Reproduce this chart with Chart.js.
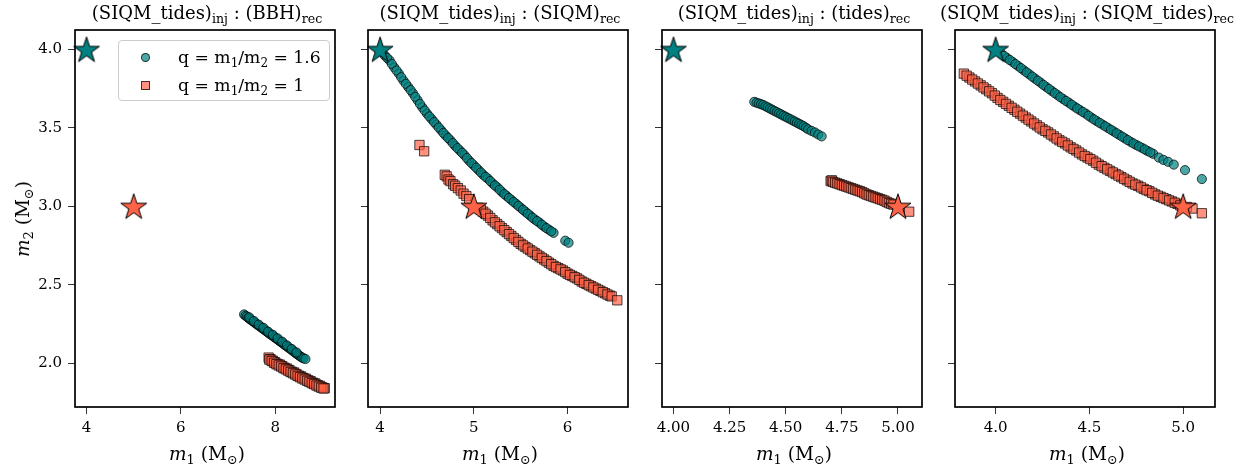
<!DOCTYPE html>
<html>
<head>
<meta charset="utf-8">
<script src="https://cdn.jsdelivr.net/npm/chart.js@4.4.0/dist/chart.umd.min.js"></script>
<style>
  body { margin:0; background:#fff; width:1249px; height:472px; overflow:hidden; position:relative; font-family:'DejaVu Serif', serif; color:#000; }
  canvas.cv { position:absolute; top:0; }
  .ttl { position:absolute; top:2px; font-size:18px; line-height:22px; white-space:nowrap; transform:translateX(-50%); }
  .xl { position:absolute; top:442px; font-size:18.5px; line-height:24px; white-space:nowrap; transform:translateX(-50%); }
  .yl { position:absolute; left:23px; top:219px; font-size:18.5px; line-height:24px; white-space:nowrap; transform:translate(-50%,-50%) rotate(-90deg); }
  sub { font-size:70%; vertical-align:-0.3em; line-height:0; }
  #legend { position:absolute; left:118px; top:40px; width:212px; height:61px; box-sizing:border-box; border:1px solid #cccccc; border-radius:4px; background:rgba(255,255,255,0.8); z-index:5; }
  .lrow { position:absolute; left:59px; font-size:17.2px; line-height:20px; white-space:nowrap; }
  .mk { position:absolute; box-sizing:border-box; border:0.8px solid rgba(0,0,0,0.7); }
</style>
</head>
<body>
<script>
// ---------------- data ----------------
const panelRec = ['BBH', 'SIQM', 'tides', 'SIQM_tides'];
const seriesLabels = ['q = m1/m2 = 1.6', 'q = m1/m2 = 1'];

const xTicks = [[4, 6, 8], [4, 5, 6], [4.00, 4.25, 4.50, 4.75, 5.00], [4.0, 4.5, 5.0]];
const xTickLabels = [['4', '6', '8'], ['4', '5', '6'], ['4.00', '4.25', '4.50', '4.75', '5.00'], ['4.0', '4.5', '5.0']];
const xLimits = [[3.756, 9.267], [3.871, 6.644], [3.949, 5.107], [3.783, 5.170]];
const yTicks = [2.0, 2.5, 3.0, 3.5, 4.0];
const yTickLabels = ['2.0', '2.5', '3.0', '3.5', '4.0'];
const yLimits = [1.720, 4.123];

// injected values (stars)
const injQ16 = [4.0, 4.0];
const injQ1 = [5.0, 3.0];

// panel 1: (BBH)rec
const bbh_q16_m1 = [7.34,7.37,7.40,7.43,7.46,7.49,7.52,7.55,7.58,7.61,7.64,7.67,7.70,7.73,7.76,7.79,7.82,7.85,7.88,7.91,7.94,7.97,8.00,8.03,8.06,8.09,8.12,8.15,8.18,8.21,8.24,8.27,8.30,8.33,8.36,8.39,8.42,8.45,8.48,8.51,8.54,8.57,8.60,8.64,
                    7.45,7.55,7.65,7.75,7.85,7.95,8.05,8.15,8.25,8.35,8.45];
const bbh_q16_m2 = [2.31,2.302,2.296,2.288,2.281,2.274,2.268,2.261,2.254,2.247,2.241,2.234,2.228,2.221,2.214,2.208,2.201,2.194,2.187,2.181,2.175,2.168,2.161,2.155,2.148,2.141,2.135,2.128,2.121,2.114,2.108,2.101,2.094,2.088,2.081,2.074,2.067,2.06,2.054,2.047,2.041,2.035,2.03,2.026,
                    2.292,2.268,2.245,2.225,2.2,2.18,2.158,2.136,2.112,2.09,2.068];
const bbh_q1_m1 = [7.86,7.90,7.95,8.00,8.05,8.10,8.15,8.20,8.25,8.30,8.35,8.40,8.45,8.50,8.55,8.60,8.65,8.70,8.75,8.80,8.85,8.90,8.95,9.00,9.05,
                   7.875,7.925,7.975,8.025,8.075,8.125,8.175,8.225,8.275,8.325,8.375,8.425,8.475,8.525,8.575,8.625,8.675,8.725,8.775,8.825,8.875,8.925,8.975,9.025];
const bbh_q1_m2 = [2.035,2.025,2.015,2.005,1.995,1.99,1.98,1.97,1.965,1.955,1.945,1.94,1.93,1.92,1.915,1.905,1.90,1.89,1.885,1.875,1.87,1.86,1.855,1.845,1.84,
                   2.022,2.013,2.002,1.993,1.985,1.978,1.968,1.96,1.952,1.943,1.935,1.927,1.918,1.91,1.902,1.895,1.887,1.88,1.872,1.865,1.857,1.85,1.843,1.838];

// panel 2: (SIQM)rec
const siqm_q16_m1 = [4.05,4.10,4.15,4.20,4.25,4.30,4.35,4.40,4.45,4.50,4.55,4.60,4.65,4.70,4.75,4.80,4.85,4.90,4.95,5.00,5.05,5.10,5.15,5.20,5.25,5.30,5.35,5.40,5.45,5.50,5.55,5.60,5.65,5.70,5.75,5.80,5.85,
                     4.025,4.075,4.125,4.175,4.225,4.275,4.325,4.375,4.425,4.475,4.525,4.575,4.625,4.675,4.725,4.775,4.825,4.875,4.925,4.975,5.025,5.075,5.125,5.175,5.225,5.275,5.325,5.375,5.425,5.475,5.525,5.575,5.625,5.675,5.725,5.775,5.825,
                     5.975,6.01];
const siqm_q16_m2 = [3.96,3.93,3.885,3.845,3.80,3.76,3.72,3.675,3.63,3.59,3.555,3.52,3.485,3.45,3.42,3.385,3.355,3.325,3.29,3.26,3.23,3.20,3.175,3.145,3.12,3.09,3.065,3.04,3.015,2.99,2.965,2.94,2.915,2.895,2.87,2.85,2.83,
                     3.98,3.945,3.907,3.865,3.822,3.78,3.74,3.697,3.652,3.61,3.572,3.537,3.502,3.467,3.435,3.402,3.37,3.34,3.307,3.275,3.245,3.215,3.187,3.16,3.132,3.105,3.077,3.052,3.027,3.002,2.977,2.952,2.927,2.905,2.882,2.86,2.84,
                     2.78,2.767];
const siqm_q1_m1 = [4.42,4.47,4.69,4.71,4.73,4.75,4.78,4.80,4.83,4.86,4.89,4.92,4.95,
                    5.05,5.10,5.15,5.20,5.25,5.30,5.35,5.40,5.45,5.50,5.55,5.60,5.65,5.70,5.75,5.80,5.85,5.90,5.95,6.00,6.05,6.10,6.15,6.20,6.25,6.30,6.35,6.40,6.45,
                    5.075,5.125,5.175,5.225,5.275,5.325,5.375,5.425,5.475,5.525,5.575,5.625,5.675,5.725,5.775,5.825,5.875,5.925,5.975,6.025,6.075,6.125,6.175,6.225,6.275,6.325,6.375,6.425,6.47,
                    6.53];
const siqm_q1_m2 = [3.39,3.35,3.20,3.19,3.17,3.16,3.14,3.13,3.115,3.10,3.08,3.065,3.045,
                    2.99,2.965,2.94,2.91,2.885,2.86,2.835,2.81,2.785,2.76,2.74,2.72,2.70,2.68,2.66,2.64,2.62,2.605,2.59,2.57,2.555,2.54,2.52,2.505,2.49,2.475,2.46,2.445,2.43,
                    2.977,2.952,2.925,2.897,2.872,2.847,2.822,2.797,2.772,2.75,2.73,2.71,2.69,2.67,2.65,2.63,2.612,2.597,2.58,2.562,2.547,2.53,2.512,2.497,2.482,2.467,2.452,2.437,2.425,
                    2.40];

// panel 3: (tides)rec
const tides_q16_m1 = [4.36,4.37,4.38,4.39,4.40,4.41,4.42,4.43,4.44,4.45,4.46,4.47,4.48,4.49,4.50,4.51,4.52,4.53,4.54,4.55,4.56,4.57,4.58,4.59,4.60,4.615,4.63,4.645,4.66];
const tides_q16_m2 = [3.665,3.66,3.655,3.65,3.645,3.637,3.63,3.622,3.615,3.607,3.60,3.592,3.585,3.577,3.57,3.562,3.555,3.547,3.54,3.532,3.525,3.517,3.51,3.50,3.49,3.48,3.47,3.457,3.445];
const tides_q1_m1 = [4.70,4.705,4.71,4.72,4.73,4.74,4.75,4.76,4.77,4.78,4.79,4.80,4.81,4.82,4.83,4.84,4.85,4.86,4.87,4.88,4.89,4.90,4.91,4.92,4.93,4.94,4.95,4.96,4.97,4.98,5.05];
const tides_q1_m2 = [3.16,3.165,3.155,3.15,3.145,3.14,3.135,3.13,3.125,3.12,3.115,3.11,3.105,3.10,3.095,3.09,3.082,3.075,3.07,3.065,3.06,3.055,3.05,3.045,3.04,3.035,3.027,3.02,3.015,3.01,2.965];

// panel 4: (SIQM_tides)rec
const st_q16_m1 = [4.03,4.06,4.09,4.12,4.15,4.18,4.21,4.24,4.27,4.30,4.33,4.36,4.39,4.42,4.45,4.48,4.51,4.54,4.57,4.60,4.63,4.66,4.69,4.72,4.75,4.78,4.81,4.84,
                   4.045,4.075,4.105,4.135,4.165,4.195,4.225,4.255,4.285,4.315,4.345,4.375,4.405,4.435,4.465,4.495,4.525,4.555,4.585,4.615,4.645,4.675,4.705,4.735,4.765,4.795,4.825,
                   4.87,4.895,4.92,4.95,5.01,5.10];
const st_q16_m2 = [3.972,3.945,3.92,3.893,3.866,3.84,3.813,3.787,3.76,3.734,3.708,3.683,3.66,3.635,3.612,3.59,3.565,3.542,3.52,3.498,3.476,3.454,3.432,3.41,3.39,3.372,3.352,3.334,
                   3.958,3.932,3.906,3.88,3.853,3.826,3.80,3.773,3.747,3.721,3.695,3.671,3.647,3.623,3.601,3.577,3.553,3.531,3.509,3.487,3.465,3.443,3.421,3.40,3.381,3.362,3.343,
                   3.31,3.295,3.283,3.265,3.23,3.173];
const st_q1_m1 = [3.83,3.86,3.89,3.92,3.95,3.98,4.01,4.04,4.07,4.10,4.13,4.16,4.19,4.22,4.25,4.28,4.31,4.34,4.37,4.40,4.43,4.46,4.49,4.52,4.55,4.58,4.61,4.64,4.67,4.70,4.73,4.76,4.79,4.82,4.85,4.88,4.91,4.94,4.97,
                  3.845,3.875,3.905,3.935,3.965,3.995,4.025,4.055,4.085,4.115,4.145,4.175,4.205,4.235,4.265,4.295,4.325,4.355,4.385,4.415,4.445,4.475,4.505,4.535,4.565,4.595,4.625,4.655,4.685,4.715,4.745,4.775,4.805,4.835,4.865,4.895,4.925,4.955,4.985,
                  5.02,5.05,5.10];
const st_q1_m2 = [3.845,3.82,3.795,3.77,3.745,3.72,3.69,3.665,3.64,3.615,3.59,3.565,3.54,3.515,3.49,3.47,3.445,3.42,3.40,3.375,3.355,3.33,3.31,3.29,3.265,3.245,3.225,3.205,3.185,3.165,3.145,3.13,3.11,3.095,3.075,3.06,3.045,3.03,3.015,
                  3.832,3.807,3.782,3.757,3.732,3.705,3.677,3.652,3.627,3.602,3.577,3.552,3.527,3.502,3.48,3.457,3.432,3.41,3.387,3.365,3.342,3.32,3.30,3.277,3.255,3.235,3.215,3.195,3.175,3.155,3.137,3.12,3.102,3.085,3.067,3.052,3.037,3.022,3.005,
                  2.995,2.985,2.955];

const q16Series = [[bbh_q16_m1, bbh_q16_m2], [siqm_q16_m1, siqm_q16_m2], [tides_q16_m1, tides_q16_m2], [st_q16_m1, st_q16_m2]];
const q1Series = [[bbh_q1_m1, bbh_q1_m2], [siqm_q1_m1, siqm_q1_m2], [tides_q1_m1, tides_q1_m2], [st_q1_m1, st_q1_m2]];

// ---------------- style / layout ----------------
const TEAL = 'rgba(0,128,128,0.7)';
const SALMON = 'rgba(255,99,71,0.7)';
const EDGE = 'rgba(0,0,0,0.7)';
const plotLefts = [75, 368, 662, 955];
const plotW = 264;
const AXW = 70, PADR = 10, XAXH = 65, TOP = 30;

function makeStar(fill) {
  const R = 13.6, r = R * 0.382, S = 32;
  const c = document.createElement('canvas');
  c.width = S; c.height = S;
  const g = c.getContext('2d');
  g.beginPath();
  for (let i = 0; i < 10; i++) {
    const rad = (i % 2 === 0) ? R : r;
    const a = -Math.PI / 2 + i * Math.PI / 5;
    const px = S / 2 + rad * Math.cos(a), py = S / 2 + 1.3 + rad * Math.sin(a);
    if (i === 0) g.moveTo(px, py); else g.lineTo(px, py);
  }
  g.closePath();
  g.fillStyle = fill; g.fill();
  g.lineWidth = 1; g.strokeStyle = '#000'; g.lineJoin = 'miter'; g.stroke();
  return c;
}
const starTeal = makeStar('#008080');
const starSalmon = makeStar('#FF6347');

const framePlugin = {
  id: 'frame',
  afterDatasetsDraw(chart) {
    const a = chart.chartArea, ctx = chart.ctx;
    ctx.save();
    ctx.strokeStyle = '#000'; ctx.lineWidth = 1.7;
    ctx.strokeRect(a.left, a.top, a.right - a.left, a.bottom - a.top);
    ctx.restore();
  }
};

const toPts = (xs, ys) => xs.map((x, i) => ({ x: x, y: ys[i] }));
const tickFont = { family: "'DejaVu Serif', serif", size: 15 };

for (let p = 0; p < 4; p++) {
  const cv = document.createElement('canvas');
  cv.className = 'cv';
  cv.width = AXW + plotW + PADR; cv.height = 472;
  cv.style.left = (plotLefts[p] - AXW) + 'px';
  cv.style.width = cv.width + 'px'; cv.style.height = '472px';
  document.body.appendChild(cv);

  new Chart(cv, {
    type: 'scatter',
    data: {
      datasets: [
        { data: [{ x: injQ16[0], y: injQ16[1] }], pointStyle: starTeal, pointRadius: 13, clip: false },
        { data: [{ x: injQ1[0], y: injQ1[1] }], pointStyle: starSalmon, pointRadius: 13, clip: false },
        { label: seriesLabels[1], data: toPts(q1Series[p][0], q1Series[p][1]), pointStyle: 'rect', pointRadius: 6.6,
          backgroundColor: SALMON, borderColor: EDGE, borderWidth: 1, clip: false },
        { label: seriesLabels[0], data: toPts(q16Series[p][0], q16Series[p][1]), pointStyle: 'circle', pointRadius: 4.6,
          backgroundColor: TEAL, borderColor: EDGE, borderWidth: 1, clip: false }
      ]
    },
    options: {
      responsive: false, animation: false, devicePixelRatio: 1,
      layout: { padding: { top: TOP, right: PADR, left: 0, bottom: 0 } },
      plugins: { legend: { display: false }, tooltip: { enabled: false }, title: { display: false } },
      elements: { point: { hoverRadius: 0 } },
      scales: {
        x: {
          type: 'linear', min: xLimits[p][0], max: xLimits[p][1],
          afterBuildTicks: s => { s.ticks = xTicks[p].map(v => ({ value: v })); },
          afterFit: s => { s.height = XAXH; },
          ticks: { font: tickFont, color: '#000', padding: 5, maxRotation: 0, autoSkip: false,
                   callback: (v, i) => xTickLabels[p][i] },
          grid: { display: true, drawOnChartArea: false, drawTicks: true, tickLength: 7, color: '#333', lineWidth: 1 },
          border: { display: false }
        },
        y: {
          type: 'linear', min: yLimits[0], max: yLimits[1],
          afterBuildTicks: s => { s.ticks = yTicks.map(v => ({ value: v })); },
          afterFit: s => { s.width = AXW; },
          ticks: { font: tickFont, color: '#000', padding: 6, autoSkip: false,
                   callback: (v, i) => (p === 0 ? yTickLabels[i] : '') },
          grid: { display: true, drawOnChartArea: false, drawTicks: true, tickLength: 7, color: '#333', lineWidth: 1 },
          border: { display: false }
        }
      }
    },
    plugins: [framePlugin]
  });

  const t = document.createElement('div');
  t.className = 'ttl';
  t.style.left = (plotLefts[p] + plotW / 2) + 'px';
  t.innerHTML = '(SIQM_tides)<sub>inj</sub> : (' + panelRec[p] + ')<sub>rec</sub>';
  document.body.appendChild(t);

  const xl = document.createElement('div');
  xl.className = 'xl';
  xl.style.left = (plotLefts[p] + plotW / 2) + 'px';
  xl.innerHTML = '<i>m</i><sub>1</sub> (M<sub>⊙</sub>)';
  document.body.appendChild(xl);
}

const yl = document.createElement('div');
yl.className = 'yl';
yl.innerHTML = '<i>m</i><sub>2</sub> (M<sub>⊙</sub>)';
document.body.appendChild(yl);

// legend
const lg = document.createElement('div');
lg.id = 'legend';
lg.innerHTML =
  '<div class="mk" style="left:22px;top:11.5px;width:9px;height:9px;border-radius:50%;background:' + TEAL + '"></div>' +
  '<div class="lrow" style="top:6px">q = m<sub>1</sub>/m<sub>2</sub> = 1.6</div>' +
  '<div class="mk" style="left:22px;top:39.5px;width:9px;height:9px;background:' + SALMON + '"></div>' +
  '<div class="lrow" style="top:34px">q = m<sub>1</sub>/m<sub>2</sub> = 1</div>';
document.body.appendChild(lg);
</script>
</body>
</html>
